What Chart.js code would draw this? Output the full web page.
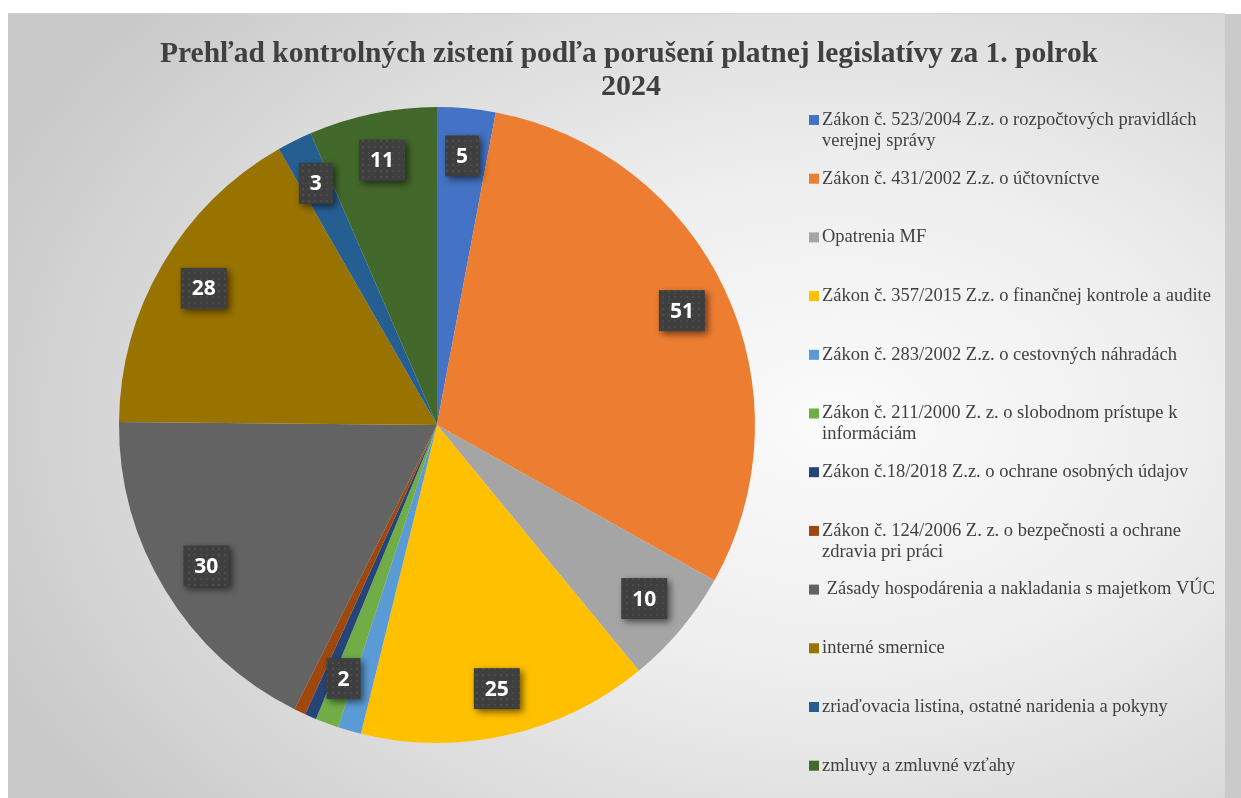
<!DOCTYPE html>
<html>
<head>
<meta charset="utf-8">
<script src="https://cdn.jsdelivr.net/npm/chart.js@4/dist/chart.umd.min.js"></script>
<style>
  html, body { margin: 0; padding: 0; background: #fff; }
  body { width: 1241px; height: 798px; position: relative; overflow: hidden; }
  #frame {
    position: absolute; left: 8px; top: 13px; width: 1217px; height: 785px;
    border-top: 1px solid #d4d4d4;
    background: radial-gradient(ellipse 75% 80% at 68% 52%, #fbfbfb 0%, #eeeeee 40%, #d6d6d6 80%, #c9c9c9 100%);
  }
  #strip { position: absolute; left: 1225px; top: 14px; width: 16px; height: 784px; background: #cacaca; }
  #wrap { position: absolute; left: 0; top: 0; width: 1241px; height: 798px; }
</style>
</head>
<body>
<div id="frame"></div>
<div id="strip"></div>
<div id="wrap"><canvas id="chart" width="1241" height="798"></canvas></div>
<script>
const title = ["Prehľad kontrolných zistení podľa porušení platnej legislatívy za 1. polrok", "2024"];

const categories = [
  ["Zákon č. 523/2004 Z.z. o rozpočtových pravidlách", "verejnej správy"],
  ["Zákon č. 431/2002 Z.z. o účtovníctve"],
  ["Opatrenia MF"],
  ["Zákon č. 357/2015 Z.z. o finančnej kontrole a audite"],
  ["Zákon č. 283/2002 Z.z. o cestovných náhradách"],
  ["Zákon č. 211/2000 Z. z. o slobodnom prístupe k", "informáciám"],
  ["Zákon č.18/2018 Z.z. o ochrane osobných údajov"],
  ["Zákon č. 124/2006 Z. z. o bezpečnosti a ochrane", "zdravia pri práci"],
  [" Zásady hospodárenia a nakladania s majetkom VÚC"],
  ["interné smernice"],
  ["zriaďovacia listina, ostatné naridenia a pokyny"],
  ["zmluvy a zmluvné vzťahy"]
];
const values = [5, 51, 10, 25, 2, 2, 1, 1, 30, 28, 3, 11];
// slices whose value label is not shown in the picture
const hiddenLabels = [4, 6, 7];

const colors = ["#4472C4", "#ED7D31", "#A5A5A5", "#FFC000", "#5B9BD5", "#70AD47",
                "#264478", "#9E480E", "#636363", "#997300", "#255E91", "#43682B"];

// dotted dark fill for the value boxes
const makePattern = (ctx) => {
  const c = document.createElement("canvas");
  c.width = 6; c.height = 6;
  const p = c.getContext("2d");
  p.fillStyle = "#3f3f3f";
  p.fillRect(0, 0, 6, 6);
  p.fillStyle = "#4b4b4b";
  p.fillRect(2, 2, 2, 2);
  return ctx.createPattern(c, "repeat");
};

const titlePlugin = {
  id: "titleText",
  afterDraw(chart) {
    const ctx = chart.ctx;
    ctx.save();
    ctx.fillStyle = "#404040";
    ctx.font = "bold 30px 'Liberation Serif'";
    ctx.textAlign = "center";
    ctx.textBaseline = "alphabetic";
    ctx.fillText(title[0], 629, 62, 938);
    ctx.fillText(title[1], 631, 95);
    ctx.restore();
  }
};

const legendPlugin = {
  id: "sideLegend",
  afterDraw(chart) {
    const ctx = chart.ctx;
    const ds = chart.data.datasets[0];
    ctx.save();
    ctx.font = "18.5px 'Liberation Serif'";
    ctx.textBaseline = "middle";
    ctx.textAlign = "left";
    const y0 = 120, step = 58.7;
    chart.data.labels.forEach((lines, i) => {
      const y = y0 + i * step;
      ctx.fillStyle = ds.backgroundColor[i];
      ctx.fillRect(809, y - 5, 10, 10);
      ctx.fillStyle = "#404040";
      lines.forEach((t, k) => ctx.fillText(t, 822, y + k * 21));
    });
    ctx.restore();
  }
};

const valuePlugin = {
  id: "valueBoxes",
  afterDatasetsDraw(chart) {
    const ctx = chart.ctx;
    const meta = chart.getDatasetMeta(0);
    const ds = chart.data.datasets[0];
    const pattern = makePattern(ctx);
    ctx.save();
    ctx.font = "bold 21px 'Open Sans'";
    ctx.textAlign = "center";
    ctx.textBaseline = "middle";
    meta.data.forEach((arc, i) => {
      if (hiddenLabels.includes(i)) return;
      const p = arc.getProps(["x", "y", "startAngle", "endAngle", "outerRadius"], true);
      const a = (p.startAngle + p.endAngle) / 2;
      const r = p.outerRadius * 0.85;
      const cx = p.x + Math.cos(a) * r;
      const cy = p.y + Math.sin(a) * r;
      const txt = String(ds.data[i]);
      const w = ctx.measureText(txt).width + 22;
      const h = 41;
      ctx.save();
      ctx.shadowColor = "rgba(0,0,0,0.55)";
      ctx.shadowBlur = 7;
      ctx.shadowOffsetX = 3;
      ctx.shadowOffsetY = 3;
      ctx.fillStyle = pattern;
      ctx.fillRect(cx - w / 2, cy - h / 2, w, h);
      ctx.restore();
      ctx.fillStyle = "#ffffff";
      ctx.fillText(txt, cx, cy + 1);
    });
    ctx.restore();
  }
};

new Chart(document.getElementById("chart"), {
  type: "pie",
  data: {
    labels: categories,
    datasets: [{
      data: values,
      backgroundColor: colors,
      borderWidth: 0
    }]
  },
  options: {
    responsive: false,
    animation: false,
    layout: { padding: { left: 119, right: 486, top: 107, bottom: 55 } },
    plugins: {
      legend: { display: false },
      title: { display: false },
      tooltip: { enabled: false }
    }
  },
  plugins: [titlePlugin, legendPlugin, valuePlugin]
});
</script>
</body>
</html>
